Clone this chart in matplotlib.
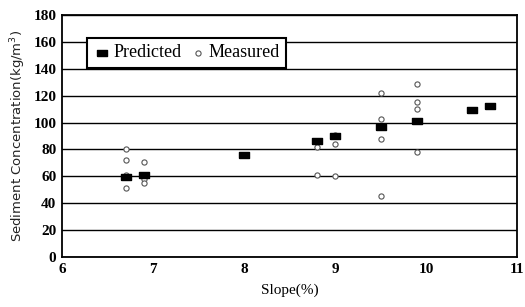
import matplotlib
matplotlib.use("Agg")
import matplotlib.pyplot as plt

pred_x = [6.7, 6.9, 8.0, 8.8, 9.0, 9.5, 9.9, 10.5, 10.7]
pred_y = [59.5, 61, 76, 86, 90, 97, 101, 109, 112]

meas_x = [6.7, 6.7, 6.7, 6.7, 6.9, 6.9, 6.9, 8.8, 8.8, 9.0, 9.0, 9.0,
          9.5, 9.5, 9.5, 9.5, 9.9, 9.9, 9.9, 9.9]
meas_y = [80, 72, 61, 51, 71, 58, 55, 82, 61, 91, 84, 60,
          122, 103, 88, 45, 129, 115, 110, 78]

x_ticks = [6, 7, 8, 9, 10, 11]
y_ticks = [0, 20, 40, 60, 80, 100, 120, 140, 160, 180]

serif = ["Liberation Serif", "DejaVu Serif"]
rect = [(-1.5, -1), (1.5, -1), (1.5, 1), (-1.5, 1), (-1.5, -1)]

fig = plt.figure(figsize=(5.25, 3.07), dpi=100)
ax = fig.add_axes([0.118, 0.163, 0.867, 0.788])

ax.scatter(meas_x, meas_y, marker="o", s=14, facecolors="white",
           edgecolors="#555555", linewidths=0.8, zorder=3, label="Measured")
ax.scatter(pred_x, pred_y, marker=rect, s=55, color="black", zorder=4,
           label="Predicted")

ax.set_xlim(6, 11)
ax.set_ylim(0, 180)
ax.set_xticks(x_ticks)
ax.set_yticks(y_ticks)
ax.set_xticklabels([str(t) for t in x_ticks], family=serif, fontsize=11,
                   fontweight="bold")
ax.set_yticklabels([str(t) for t in y_ticks], family=serif, fontsize=11,
                   fontweight="bold")
ax.tick_params(axis="both", length=0, pad=4)
ax.yaxis.grid(True, color="black", linewidth=1.0)
ax.set_axisbelow(True)
for s in ax.spines.values():
    s.set_linewidth(1.3)
    s.set_color("black")

ax.set_xlabel("Slope(%)", family=serif, fontsize=11, labelpad=6)
ax.set_ylabel("Sediment Concentration(kg/m$^3$)", fontsize=9.5, labelpad=4,
              color="#222222")

handles, labels = ax.get_legend_handles_labels()
leg = ax.legend([handles[1], handles[0]], [labels[1], labels[0]],
                loc="upper left", bbox_to_anchor=(0.055, 0.905), ncol=2,
                prop={"family": serif, "size": 13}, frameon=True,
                fancybox=False, edgecolor="black", handletextpad=0.1,
                columnspacing=0.4, handlelength=1.0, borderpad=0.35,
                borderaxespad=0)
leg.get_frame().set_linewidth(1.5)
leg.get_frame().set_alpha(1)

fig.savefig("out.png", dpi=100)
